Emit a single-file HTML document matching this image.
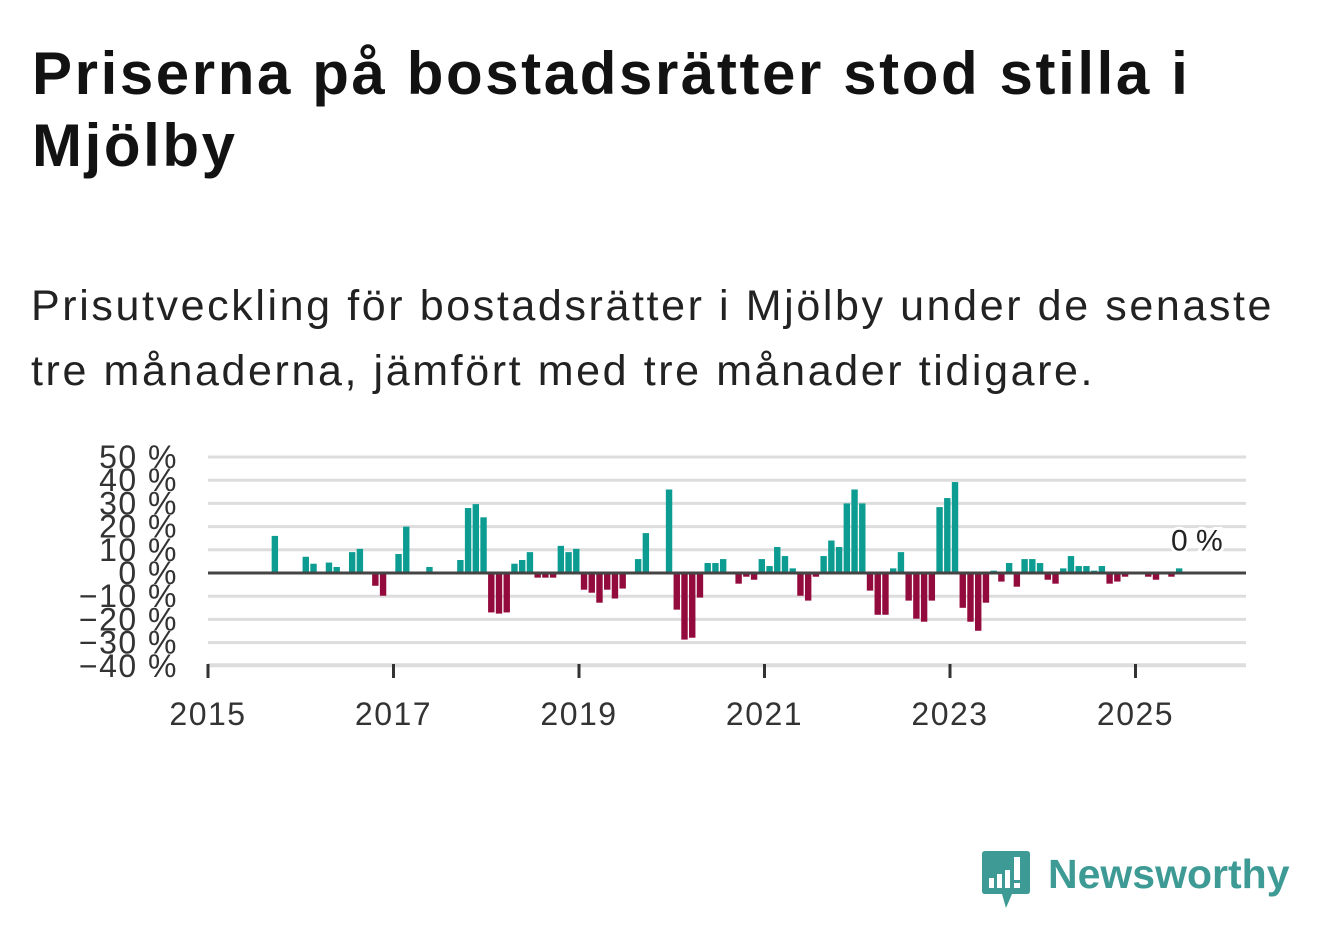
<!DOCTYPE html>
<html><head><meta charset="utf-8">
<style>
html,body{margin:0;padding:0;background:#fff;}
body{width:1322px;height:939px;position:relative;overflow:hidden;font-family:"Liberation Sans","DejaVu Sans",sans-serif;color:#121212;}
#title{position:absolute;left:32px;top:38px;font-size:60px;font-weight:bold;line-height:72px;margin:0;width:1300px;letter-spacing:2.6px;white-space:nowrap;}
#subtitle{position:absolute;left:31px;top:274px;font-size:43px;line-height:65px;margin:0;width:1300px;color:#222;letter-spacing:2.6px;white-space:nowrap;}
</style></head><body>
<h1 id="title">Priserna på bostadsrätter stod stilla i<br>Mjölby</h1>
<p id="subtitle">Prisutveckling för bostadsrätter i Mjölby under de senaste<br>tre månaderna, jämfört med tre månader tidigare.</p>
<svg id="chart" width="1322" height="939" style="position:absolute;left:0;top:0" xmlns="http://www.w3.org/2000/svg"></svg>
<svg width="320" height="80" style="position:absolute;left:975px;top:845px" xmlns="http://www.w3.org/2000/svg">
<path d="M10 6 H52 Q55 6 55 9 V46 Q55 49 52 49 H37 L31 63 L27 49 H10 Q7 49 7 46 V9 Q7 6 10 6Z" fill="#3e9a94"/>
<rect x="14" y="33" width="5" height="10" fill="#fff"/><rect x="22" y="29" width="5" height="14" fill="#fff"/><rect x="30" y="25" width="5" height="18" fill="#fff"/><rect x="39" y="12" width="6" height="23" fill="#fff"/><rect x="39" y="38" width="6" height="5" fill="#fff"/>
<text x="73" y="43" font-family="Liberation Sans, sans-serif" font-weight="bold" font-size="41" fill="#3e9a94">Newsworthy</text>
</svg>
<script>
const values=[0,0,0,0,0,0,0,0,0,16,0,0,0,7,4,0,4.5,2.6,0,9,10.4,0,-5.5,-9.8,0,8.2,20,0,0,2.6,0,0,0,5.6,28,29.7,24,-17,-17.5,-17,4,5.6,9,-2,-2,-2,11.7,9,10.4,-7.2,-8.5,-12.8,-7.2,-11,-6.7,0,6,17.2,0,0,36,-15.8,-28.7,-27.9,-10.6,4.3,4.3,6,0,-4.6,-1.6,-2.9,6,3,11.2,7.3,2,-9.8,-11.9,-1.6,7.3,14,11.2,30,36,30,-7.6,-18,-18,2,9,-11.9,-19.7,-21,-11.9,28.4,32.3,39.2,-15,-21,-24.9,-12.8,1,-3.7,4.3,-5.9,6,6,4.3,-2.9,-4.6,2,7.3,3,3,1,3,-4.6,-3.7,-1.6,0,0,-1.6,-2.9,0,-1.6,2];
const startYear=2015;
const yTicks=[50,40,30,20,10,0,-10,-20,-30,-40];
const yTickLabels=["50 %","40 %","30 %","20 %","10 %","0 %","−10 %","−20 %","−30 %","−40 %"];
const xTicks=[2015,2017,2019,2021,2023,2025];
const lastLabel="0 %";
const svg=document.getElementById('chart');
const NS='http://www.w3.org/2000/svg';
const X0=208,PX_YEAR=92.75,Y0=573,PX_PCT=2.32;
const xScale=m=>X0+m*PX_YEAR/12;
const yScale=v=>Y0-v*PX_PCT;
function mk(t,a){const e=document.createElementNS(NS,t);for(const k in a)e.setAttribute(k,a[k]);svg.appendChild(e);return e;}
yTicks.forEach((t,i)=>{
 if(t!==0){const g=mk('line',{x1:208,x2:1246,y1:yScale(t),y2:yScale(t),stroke:'#ddd','stroke-width':3});
 
 }
 const l=mk('text',{x:178,y:yScale(t)+11,'text-anchor':'end','font-size':32,'letter-spacing':1.5,fill:'#333','font-family':'Liberation Sans, sans-serif'});
 l.textContent=yTickLabels[i];
 
 
});
const ax=mk('line',{x1:208,x2:1246,y1:664,y2:664,stroke:'#ddd','stroke-width':1.5});


xTicks.forEach(yr=>{
 const x=xScale((yr-startYear)*12);
 const t=mk('line',{x1:x,x2:x,y1:664,y2:678,stroke:'#333','stroke-width':3});
 
 
 const l=mk('text',{x:x,y:725,'text-anchor':'middle','font-size':32,'letter-spacing':1.5,fill:'#333','font-family':'Liberation Sans, sans-serif'});
 l.textContent=yr;
 
 
});
values.forEach((v,i)=>{
 if(v===0)return;
 const cx=xScale(i)-2.7;
 const y=v>0?yScale(v):Y0;
 const r=mk('rect',{x:cx-3.2,y:y,width:6.4,height:Math.abs(v)*PX_PCT,fill:v>0?'#0d9c92':'#930a3c'});
 
 
});
const z=mk('line',{x1:208,x2:1246,y1:Y0,y2:Y0,stroke:'#444','stroke-width':3});


const lx=xScale(values.length-1)+15;
const lab=mk('text',{x:lx,y:yScale(values[values.length-1])-18,'text-anchor':'middle','font-size':30,fill:'#222',stroke:'#fff','stroke-width':6,'paint-order':'stroke','font-family':'Liberation Sans, sans-serif'});
lab.textContent=lastLabel;


</script>
</body></html>
